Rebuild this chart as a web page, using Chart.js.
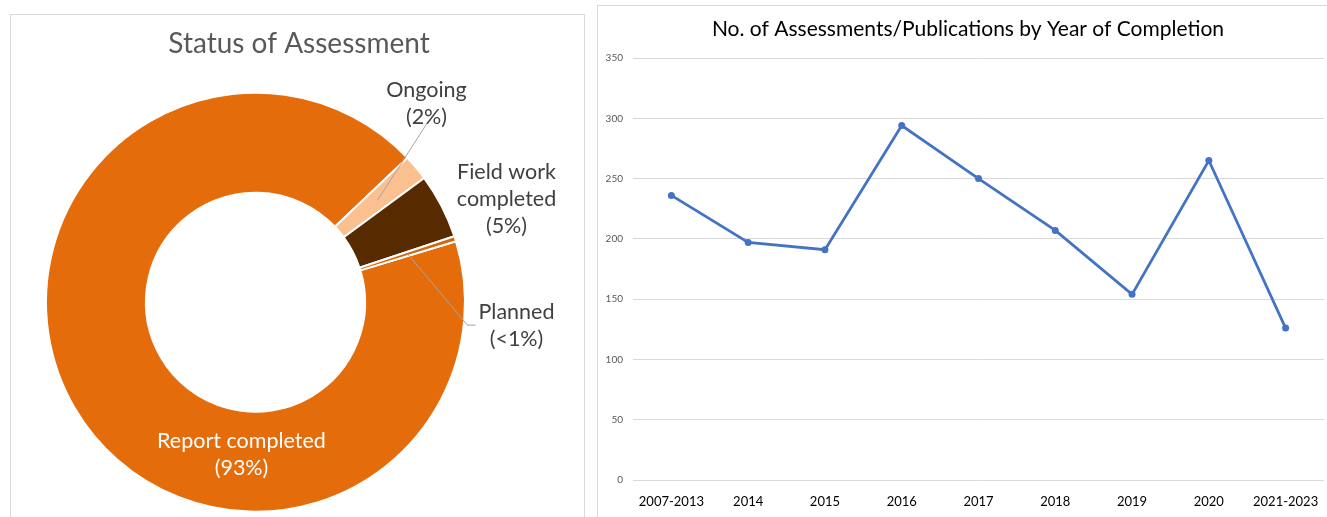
<!DOCTYPE html>
<html>
<head>
<meta charset="utf-8">
<script src="https://cdn.jsdelivr.net/npm/chart.js@4.4.0/dist/chart.umd.min.js"></script>
<style>
html, body { margin: 0; padding: 0; background: #fff; width: 1327px; height: 517px; overflow: hidden; }
.panel { position: absolute; border: 1px solid #d9d9d9; background: #fff; }
#left-panel { left: 10px; top: 14px; width: 573px; height: 520px; }
#right-panel { left: 597px; top: 5px; width: 740px; height: 530px; }
canvas { position: absolute; left: 0; top: 0; }
</style>
</head>
<body>
<div class="panel" id="left-panel"><canvas id="status-chart" width="573" height="520"></canvas></div>
<div class="panel" id="right-panel"><canvas id="year-chart" width="730" height="520"></canvas></div>
<script>
// status of assessment (share of all assessments, %)
const statusLabels = ['Report completed', 'Ongoing', 'Field work completed', 'Planned'];
const statusShares = [92.6, 2.0, 5.0, 0.4];
const statusText = ['(93%)', '(2%)', '(5%)', '(<1%)'];
const statusColors = ['#e46c0a', '#fac090', '#582a00', '#d2650f'];

// assessments / publications per year of completion
const years = ['2007-2013', '2014', '2015', '2016', '2017', '2018', '2019', '2020', '2021-2023'];
const counts = [236, 197, 191, 294, 250, 207, 154, 265, 126];
const yTicks = [0, 50, 100, 150, 200, 250, 300, 350];

const FONT = 'Lato, "Open Sans", sans-serif';

// draws a panel title at a fixed spot
const panelTitle = {
    id: 'panelTitle',
    afterDraw(chart, args, opts) {
        const ctx = chart.ctx;
        ctx.save();
        ctx.font = opts.size + 'px ' + FONT;
        ctx.fillStyle = opts.color;
        ctx.textAlign = 'center';
        ctx.textBaseline = 'middle';
        ctx.fillText(opts.text, opts.x, opts.y);
        ctx.restore();
    }
};

// slice labels with leader lines, placed relative to the doughnut centre
const sliceLabels = {
    id: 'sliceLabels',
    afterDraw(chart) {
        const ctx = chart.ctx;
        const arcs = chart.getDatasetMeta(0).data;
        const cx = arcs[0].x, cy = arcs[0].y;
        const spots = [
            { dx: -14, dy: 139, color: '#fff', lines: ['Report completed', statusText[0]] },
            { dx: 171, dy: -212, color: '#404040', lines: ['Ongoing', statusText[1]], leader: [[171, -178]] },
            { dx: 251, dy: -130, color: '#404040', lines: ['Field work', 'completed', statusText[2]] },
            { dx: 261, dy: 10, color: '#404040', lines: ['Planned', statusText[3]], leader: [[212, 23], [220, 23]] }
        ];
        ctx.save();
        spots.forEach((s, i) => {
            if (s.leader) {
                const p = arcs[i].getCenterPoint();
                ctx.strokeStyle = '#a6a6a6';
                ctx.lineWidth = 1;
                ctx.beginPath();
                ctx.moveTo(p.x, p.y);
                s.leader.forEach(pt => ctx.lineTo(cx + pt[0], cy + pt[1]));
                ctx.stroke();
            }
            ctx.font = '21.5px ' + FONT;
            ctx.fillStyle = s.color;
            ctx.textAlign = 'center';
            ctx.textBaseline = 'middle';
            s.lines.forEach((t, k) => ctx.fillText(t, cx + s.dx, cy + s.dy + k * 27));
        });
        ctx.restore();
    }
};

new Chart(document.getElementById('status-chart'), {
    type: 'doughnut',
    data: {
        labels: statusLabels,
        datasets: [{
            data: statusShares,
            backgroundColor: statusColors,
            borderColor: '#ffffff',
            borderWidth: 2,
            hoverOffset: 0
        }]
    },
    options: {
        responsive: false,
        animation: false,
        rotation: 73.1,
        cutout: '52.3%',
        layout: { padding: { left: 34, right: 118, top: 76.7, bottom: 22.3 } },
        plugins: {
            legend: { display: false },
            tooltip: { enabled: false },
            panelTitle: { text: 'Status of Assessment', x: 288, y: 29, size: 28, color: '#595959' }
        }
    },
    plugins: [sliceLabels, panelTitle]
});

new Chart(document.getElementById('year-chart'), {
    type: 'line',
    data: {
        labels: years,
        datasets: [{
            data: counts,
            borderColor: '#4472c4',
            backgroundColor: '#4472c4',
            borderWidth: 2.75,
            pointRadius: 3.5,
            pointBackgroundColor: '#4472c4',
            pointBorderWidth: 0,
            tension: 0
        }]
    },
    options: {
        responsive: false,
        animation: false,
        layout: { padding: { left: 0, right: 3, top: 52, bottom: 0 } },
        scales: {
            x: {
                offset: true,
                grid: { display: false },
                border: { display: false },
                ticks: { color: '#000', font: { family: FONT, size: 13 }, padding: 6, maxRotation: 0, autoSkip: false },
                afterFit: s => { s.height = 46; }
            },
            y: {
                min: 0,
                max: 350,
                afterBuildTicks: s => { s.ticks = yTicks.map(v => ({ value: v })); },
                grid: { color: '#d9d9d9', drawTicks: false },
                border: { display: false },
                ticks: { color: '#595959', font: { family: FONT, size: 10 }, padding: 10 },
                afterFit: s => { s.width = 35; }
            }
        },
        plugins: {
            legend: { display: false },
            tooltip: { enabled: false },
            panelTitle: { text: 'No. of Assessments/Publications by Year of Completion', x: 370, y: 23, size: 21, color: '#000' }
        }
    },
    plugins: [panelTitle]
});
</script>
</body>
</html>
